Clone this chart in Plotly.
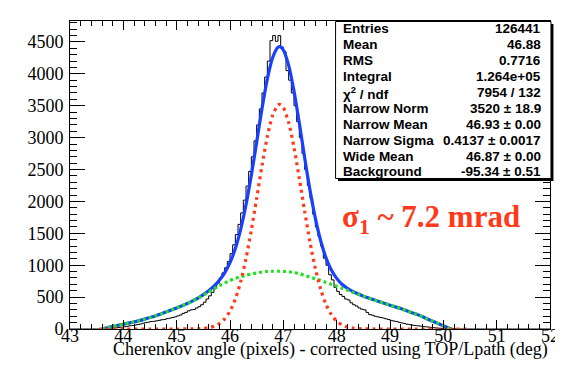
import plotly.graph_objects as go

# ---------------- data ----------------
hist_start = 43.0
bin_width = 0.05
counts = [
    0, 0, 0, 0, 0, 0, 0, 0, 0, 0,
    0, 0, 3, 5, 8, 12, 15, 20, 25, 28,
    35, 42, 50, 56, 62, 70, 78, 90, 100, 108,
    118, 120, 128, 135, 145, 150, 162, 170, 180, 190,
    205, 220, 245, 260, 285, 300, 305, 330, 350, 380,
    420, 470, 520, 575, 640, 720, 800, 880, 960, 1060,
    1180, 1320, 1480, 1640, 1820, 2020, 2240, 2470, 2700, 2950,
    3200, 3450, 3700, 3950, 4200, 4520, 4600, 4510, 4600, 4420,
    4350, 4050, 3900, 3700, 3500, 3250, 3000, 2750, 2500, 2250,
    2050, 1800, 1600, 1450, 1300, 1110, 1000, 850, 770, 650,
    590, 540, 510, 470, 455, 410, 380, 360, 330, 310,
    300, 260, 225, 215, 200, 190, 180, 172, 160, 148,
    135, 125, 118, 105, 95, 85, 75, 68, 60, 55,
    50, 45, 40, 35, 30, 25, 20, 16, 12, 10,
    8, 6, 4, 3, 2, 1, 0, 0, 0, 0,
    0, 0, 0, 0, 0, 0, 0, 0, 0, 0,
    0, 0, 0, 0, 0, 0, 0, 0, 0, 0,
    0, 0, 0, 0, 0, 0, 0, 0, 0, 0,
]

# wide component (green)
wide_x = [43.60, 43.70, 43.80, 43.90, 44.00, 44.10, 44.20, 44.30, 44.40, 44.50,
          44.60, 44.70, 44.80, 44.90, 45.00, 45.10, 45.20, 45.30, 45.40, 45.50,
          45.60, 45.70, 45.80, 45.90, 46.00, 46.10, 46.20, 46.30, 46.40, 46.50,
          46.60, 46.70, 46.80, 46.90, 47.00, 47.10, 47.20, 47.30, 47.40, 47.50,
          47.60, 47.70, 47.80, 47.90, 48.00, 48.10, 48.20, 48.30, 48.40, 48.50,
          48.60, 48.70, 48.80, 48.90, 49.00, 49.10, 49.20, 49.30, 49.40, 49.50,
          49.60, 49.70, 49.80, 49.90, 50.00, 50.10, 50.15]
wide_y = [0, 20, 40, 58, 75, 92, 110, 132, 155, 180,
          205, 235, 265, 297, 330, 365, 400, 440, 480, 530,
          580, 630, 680, 722, 760, 792, 820, 843, 862, 878,
          893, 901, 905, 906, 904, 898, 884, 866, 840, 815,
          788, 760, 730, 700, 670, 638, 607, 575, 545, 515,
          485, 457, 428, 400, 373, 347, 320, 290, 260, 230,
          195, 158, 120, 85, 50, 15, 0]

# total fit (blue)
total_x = [43.60, 43.70, 43.80, 43.90, 44.00, 44.10, 44.20, 44.30, 44.40, 44.50,
           44.60, 44.70, 44.80, 44.90, 45.00, 45.10, 45.20, 45.30, 45.40, 45.50,
           45.60, 45.70, 45.80, 45.90, 46.00, 46.10, 46.20, 46.30, 46.40, 46.50,
           46.60, 46.70, 46.80, 46.90, 46.95, 47.00, 47.10, 47.20, 47.30, 47.40,
           47.50, 47.60, 47.70, 47.80, 47.90, 48.00, 48.10, 48.20, 48.30, 48.40,
           48.50, 48.60, 48.70, 48.80, 48.90, 49.00, 49.10, 49.20, 49.30, 49.40,
           49.50, 49.60, 49.70, 49.80, 49.90, 50.00, 50.10, 50.15]
total_y = [0, 20, 40, 58, 75, 92, 110, 132, 155, 180,
           205, 235, 265, 297, 330, 365, 400, 440, 484, 539,
           600, 672, 764, 881, 1041, 1262, 1562, 1947, 2412, 2929,
           3454, 3917, 4255, 4417, 4421, 4374, 4133, 3729, 3225, 2686,
           2177, 1737, 1383, 1116, 925, 794, 702, 639, 590, 552,
           515, 485, 457, 428, 400, 373, 347, 320, 290, 260,
           230, 195, 158, 120, 85, 50, 15, 0]

# narrow component (red)
narrow_x = [43.55, 44.00, 44.50, 45.00, 45.30, 45.40, 45.50, 45.60, 45.70, 45.80,
            45.90, 46.00, 46.10, 46.20, 46.30, 46.40, 46.50, 46.60, 46.70, 46.80,
            46.90, 46.93, 47.00, 47.10, 47.20, 47.30, 47.40, 47.50, 47.60, 47.70,
            47.80, 47.90, 48.00, 48.10, 48.20, 48.30, 48.40, 48.50, 48.60, 49.00,
            49.50, 50.00, 50.45]
narrow_y = [0, 0, 0, 0, 2, 4, 9, 20, 42, 84,
            159, 281, 470, 742, 1104, 1550, 2051, 2561, 3016, 3350,
            3511, 3520, 3470, 3235, 2845, 2359, 1846, 1362, 949, 623,
            386, 225, 124, 64, 32, 15, 7, 3, 1, 0,
            0, 0, 0]

x_ticks = [43, 44, 45, 46, 47, 48, 49, 50, 51, 52]
y_ticks = [0, 500, 1000, 1500, 2000, 2500, 3000, 3500, 4000, 4500]

stat_names = ["Entries", "Mean", "RMS", "Integral", "χ<sup>2</sup> / ndf",
              "Narrow Norm", "Narrow Mean", "Narrow Sigma", "Wide Mean", "Background"]
stat_values = ["126441", "46.88", "0.7716", "1.264e+05", "7954 / 132",
               "3520 ± 18.9", "46.93 ± 0.00", "0.4137 ± 0.0017", "46.87 ± 0.00", "-95.34 ± 0.51"]

x_title = "Cherenkov angle (pixels) - corrected using TOP/Lpath (deg)"
big_label = "σ<sub>1</sub> ~ 7.2 mrad"

# ---------------- figure ----------------
edges = [hist_start + bin_width * i for i in range(len(counts) + 1)]
step_y = counts + [counts[-1]]

W, H = 563, 365
ml, mr, mt, mb = 62, 13, 12, 44
pw, ph = W - ml - mr, H - mt - mb

def px_to_paper_x(px):
    return (px - ml) / pw

def px_to_paper_y(py):
    return (H - mb - py) / ph

fig = go.Figure()
fig.add_trace(go.Scatter(x=edges, y=step_y, mode="lines", line=dict(color="black", width=1, shape="hv"),
                         hoverinfo="skip", showlegend=False))
fig.add_trace(go.Scatter(x=total_x, y=total_y, mode="lines",
                         line=dict(color="#1a40ff", width=3.2, shape="spline", smoothing=0.8),
                         showlegend=False))
fig.add_trace(go.Scatter(x=wide_x, y=wide_y, mode="lines",
                         line=dict(color="#22e022", width=3.2, dash="3px,3px", shape="spline", smoothing=0.8),
                         showlegend=False))
fig.add_trace(go.Scatter(x=narrow_x, y=narrow_y, mode="lines",
                         line=dict(color="#ff3a1a", width=3.2, dash="3px,4px", shape="spline", smoothing=0.8),
                         showlegend=False))

tickfont = dict(family="Liberation Serif", size=18, color="black")
fig.update_xaxes(range=[43, 52], tickvals=x_ticks, ticktext=[str(v) for v in x_ticks],
                 ticks="inside", ticklen=9, tickwidth=1, tickcolor="black",
                 minor=dict(dtick=0.2, tick0=43, ticks="inside", ticklen=5, tickcolor="black", tickwidth=1),
                 showline=True, linecolor="black", linewidth=1, mirror="allticks",
                 showgrid=False, zeroline=False, tickfont=tickfont, ticklabelstandoff=-10)
fig.update_yaxes(range=[0, 4828], tickvals=y_ticks, ticktext=[str(v) for v in y_ticks],
                 ticks="inside", ticklen=15, tickwidth=1, tickcolor="black",
                 minor=dict(dtick=100, tick0=0, ticks="inside", ticklen=7, tickcolor="black", tickwidth=1),
                 showline=True, linecolor="black", linewidth=1, mirror="allticks",
                 showgrid=False, zeroline=False, tickfont=tickfont, ticklabelstandoff=2)

shapes = []
bx0, bx1, by0, by1 = 332, 551, 12.5, 170
shapes.append(dict(type="rect", xref="paper", yref="paper",
                   x0=px_to_paper_x(bx0 + 2.5), x1=px_to_paper_x(bx1 + 2.5),
                   y0=px_to_paper_y(by1 + 2.5), y1=px_to_paper_y(by0 + 2.5),
                   fillcolor="black", line=dict(width=0), layer="above"))
shapes.append(dict(type="rect", xref="paper", yref="paper",
                   x0=px_to_paper_x(bx0), x1=px_to_paper_x(bx1),
                   y0=px_to_paper_y(by1), y1=px_to_paper_y(by0),
                   fillcolor="white", line=dict(color="black", width=1), layer="above"))

annotations = []
statfont = dict(family="Liberation Sans", size=13.5, color="black")
for i, (n, v) in enumerate(zip(stat_names, stat_values)):
    yy = px_to_paper_y(20 + 15.94 * i)
    annotations.append(dict(text="<b>" + n + "</b>", x=px_to_paper_x(338), y=yy, xref="paper", yref="paper",
                            xanchor="left", yanchor="middle", showarrow=False, font=statfont))
    annotations.append(dict(text="<b>" + v + "</b>", x=px_to_paper_x(543), y=yy, xref="paper", yref="paper",
                            xanchor="right", yanchor="middle", showarrow=False, font=statfont))

annotations.append(dict(text=x_title, x=1.0, y=px_to_paper_y(342), xref="paper", yref="paper",
                        xanchor="right", yanchor="middle", showarrow=False,
                        font=dict(family="Liberation Serif", size=18, color="black")))
annotations.append(dict(text="<b>" + big_label + "</b>", x=px_to_paper_x(429), y=px_to_paper_y(211),
                        xref="paper", yref="paper", xanchor="center", yanchor="middle", showarrow=False,
                        font=dict(family="Liberation Serif", size=31, color="#ff3a1a")))

fig.update_layout(width=W, height=H, margin=dict(l=ml, r=mr, t=mt, b=mb),
                  paper_bgcolor="white", plot_bgcolor="white",
                  shapes=shapes, annotations=annotations, showlegend=False)

fig.write_html("out.html")
